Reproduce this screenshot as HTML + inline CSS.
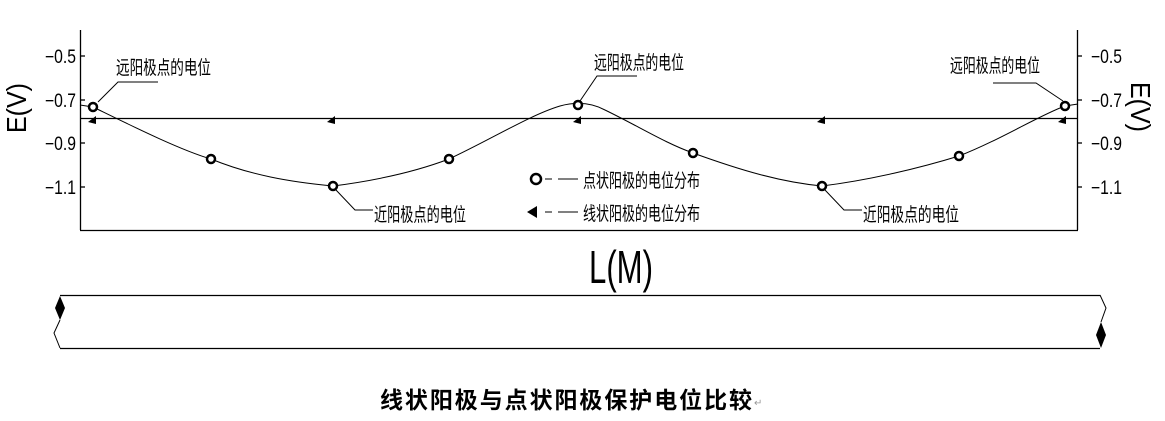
<!DOCTYPE html>
<html><head><meta charset="utf-8"><style>
html,body{margin:0;padding:0;background:#fff;}
svg{display:block;}
text{font-family:"Liberation Sans","Noto Sans CJK SC",sans-serif;fill:#000;}
</style></head><body>
<svg width="1165" height="421" viewBox="0 0 1165 421" xmlns="http://www.w3.org/2000/svg">
<g stroke="#000" fill="none" stroke-width="1.3">
<line x1="80.5" y1="30" x2="80.5" y2="230"/>
<line x1="1077.5" y1="30" x2="1077.5" y2="230"/>
<line x1="80" y1="230.5" x2="1078" y2="230.5"/>
<line x1="80" y1="118.5" x2="1078" y2="118.5"/>
<line x1="80" y1="56" x2="85" y2="56"/><line x1="80" y1="100" x2="85" y2="100"/><line x1="80" y1="143" x2="85" y2="143"/><line x1="80" y1="187" x2="85" y2="187"/>
<line x1="1077" y1="56" x2="1082" y2="56"/><line x1="1077" y1="100" x2="1082" y2="100"/><line x1="1077" y1="143" x2="1082" y2="143"/><line x1="1077" y1="187" x2="1082" y2="187"/>
</g>
<path d="M80,105 L93,107 C130,125 180,150 211,159 C250,175 290,182 333,186 C380,180 420,170 449,159 C490,140 530,115 560,106 C575,102 590,102 605,110 C640,127 665,143 693,153 C740,170 780,182 822,186 C870,180 920,168 959,156 C1000,140 1040,115 1065,106 L1078,104" fill="none" stroke="#000" stroke-width="1"/>
<g stroke="#000" fill="none" stroke-width="1">
<polyline points="98,102 118,82 158,82"/>
<polyline points="336,190 355,210 373,210"/>
<polyline points="580,101 597,76 637,76"/>
<polyline points="825,190 844,210 862,210"/>
<polyline points="1063,101 1036,83 993,83"/>
<line x1="545" y1="179" x2="552" y2="179"/><line x1="558" y1="179" x2="578" y2="179"/>
<line x1="545" y1="212" x2="552" y2="212"/><line x1="558" y1="212" x2="578" y2="212"/>
</g>
<g fill="#fff" stroke="#000" stroke-width="2.5">
<circle cx="93" cy="107" r="4"/><circle cx="211" cy="159" r="4"/><circle cx="333" cy="186" r="4"/><circle cx="449" cy="159" r="4"/><circle cx="578" cy="105" r="4"/><circle cx="693" cy="153" r="4"/><circle cx="822" cy="186" r="4"/><circle cx="959" cy="156" r="4"/><circle cx="1065" cy="106" r="4"/>
<circle cx="536" cy="179" r="5"/>
</g>
<g fill="#000">
<polygon points="88,122 96,116 96,124"/><polygon points="327,122 335,116 335,124"/><polygon points="573,122 581,116 581,124"/><polygon points="817,122 825,116 825,124"/><polygon points="1058,122 1066,116 1066,124"/>
<polygon points="527,212 537,206 537,218"/>
</g>
<g font-size="19">
<text x="45" y="63" textLength="31" lengthAdjust="spacingAndGlyphs">−0.5</text><text x="45" y="107" textLength="31" lengthAdjust="spacingAndGlyphs">−0.7</text><text x="45" y="150" textLength="31" lengthAdjust="spacingAndGlyphs">−0.9</text><text x="45" y="194" textLength="31" lengthAdjust="spacingAndGlyphs">−1.1</text>
<text x="1091" y="63" textLength="31" lengthAdjust="spacingAndGlyphs">−0.5</text><text x="1091" y="107" textLength="31" lengthAdjust="spacingAndGlyphs">−0.7</text><text x="1091" y="150" textLength="31" lengthAdjust="spacingAndGlyphs">−0.9</text><text x="1091" y="194" textLength="31" lengthAdjust="spacingAndGlyphs">−1.1</text>
</g>
<text transform="translate(26,133) rotate(-90)" font-size="28" textLength="50" lengthAdjust="spacingAndGlyphs">E(V)</text>
<text transform="translate(1131,82) rotate(90)" font-size="28" textLength="50" lengthAdjust="spacingAndGlyphs">E(V)</text>
<text x="589" y="283" font-size="46" textLength="64" lengthAdjust="spacingAndGlyphs" style="font-weight:100">L(M)</text>
<g font-size="19">
<text x="116" y="74" textLength="95" lengthAdjust="spacingAndGlyphs">远阳极点的电位</text>
<text x="594" y="69" textLength="90" lengthAdjust="spacingAndGlyphs">远阳极点的电位</text>
<text x="950" y="72" textLength="90" lengthAdjust="spacingAndGlyphs">远阳极点的电位</text>
<text x="374" y="221" textLength="92" lengthAdjust="spacingAndGlyphs">近阳极点的电位</text>
<text x="863" y="221" textLength="96" lengthAdjust="spacingAndGlyphs">近阳极点的电位</text>
<text x="583" y="187" textLength="117" lengthAdjust="spacingAndGlyphs">点状阳极的电位分布</text>
<text x="583" y="220" textLength="117" lengthAdjust="spacingAndGlyphs">线状阳极的电位分布</text>
</g>
<g stroke="#000" fill="none" stroke-width="1.3">
<line x1="60" y1="295.5" x2="1100" y2="295.5"/>
<line x1="60" y1="348.5" x2="1100" y2="348.5"/>
<polyline points="60,320 54,333 60,348" stroke-width="1"/>
<polyline points="1100,295 1106,308 1101,322" stroke-width="1"/>
</g>
<polygon points="60,296 65,308 60,320 55,308" fill="#000"/>
<polygon points="1101,322 1106,335 1101,348 1096,335" fill="#000"/>
<text x="380" y="408" font-size="23" font-weight="bold" textLength="372" lengthAdjust="spacing" style="font-family:'Noto Sans CJK SC',sans-serif">线状阳极与点状阳极保护电位比较</text>
<text x="754" y="406" font-size="10" style="fill:#999">↵</text>
</svg>
</body></html>
